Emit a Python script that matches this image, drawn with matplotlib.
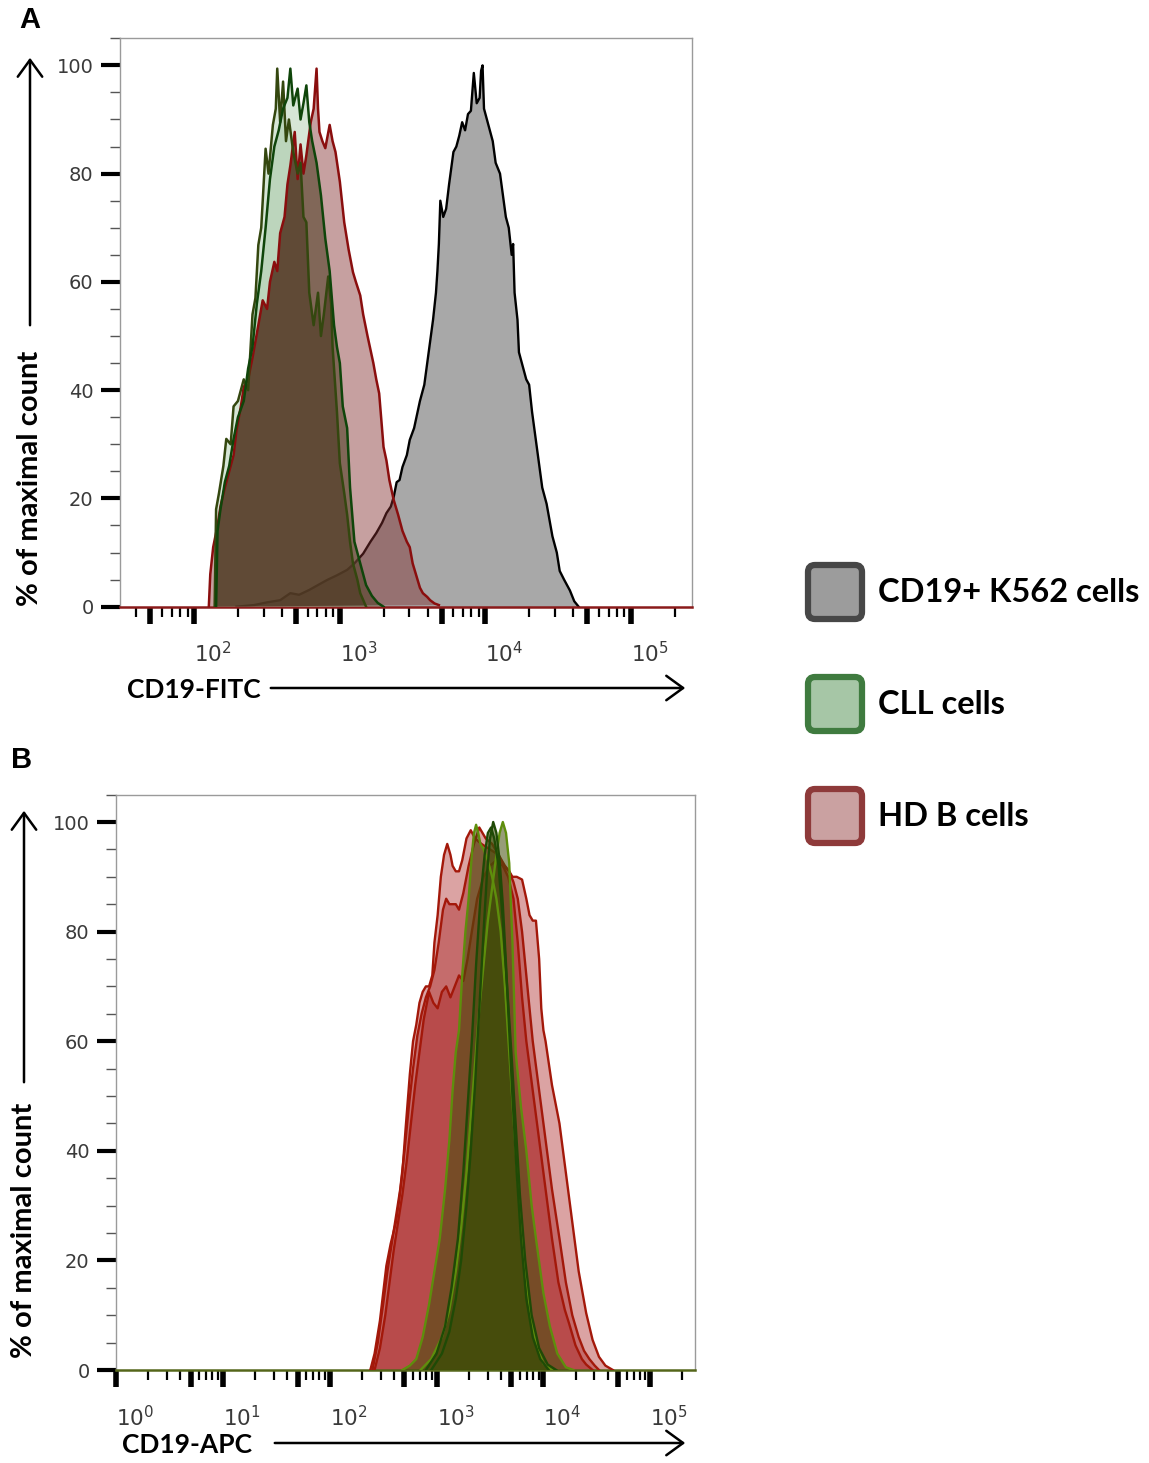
import matplotlib
matplotlib.use('Agg')
import matplotlib.pyplot as plt
import numpy as np
from matplotlib.patches import FancyArrowPatch, FancyBboxPatch
from matplotlib.ticker import FixedLocator, FuncFormatter, MultipleLocator, NullFormatter
from matplotlib.transforms import IdentityTransform

W, H = 1149, 1463

# ---- panel A: CD19-FITC (x given as log10 of intensity, y as % of max) ----
k562_log = [2.29, 2.41, 2.50, 2.59, 2.66, 2.72, 2.79, 2.85, 2.91, 2.98, 3.05, 3.10, 3.16, 3.21,
            3.25, 3.29, 3.32, 3.35, 3.37, 3.39, 3.41, 3.43, 3.46, 3.48, 3.51, 3.55, 3.58, 3.61,
            3.64, 3.66, 3.67, 3.68, 3.69, 3.71, 3.73, 3.75, 3.78, 3.80, 3.82, 3.84, 3.86, 3.88,
            3.90, 3.92, 3.94, 3.96, 3.97, 3.98, 3.99, 4.01, 4.03, 4.05, 4.07, 4.10, 4.12, 4.14,
            4.16, 4.18, 4.19, 4.20, 4.22, 4.23, 4.25, 4.28, 4.30, 4.32, 4.35, 4.37, 4.39, 4.42,
            4.44, 4.46, 4.49, 4.51, 4.54, 4.58, 4.61, 4.64]
k562_pct = [0, 0.3, 0.8, 1.2, 2.5, 2.2, 3.1, 4.0, 4.9, 5.8, 6.8, 8.0, 9.8, 12.0,
            13.6, 15.5, 17.3, 18.5, 20.3, 23.0, 23.4, 25.8, 28.0, 30.8, 33.0, 38.0, 41.0, 47.0,
            53.0, 58.0, 62.0, 67.0, 75.0, 72.0, 73.5, 78.0, 84.0, 85.0, 87.0, 89.5, 88.0, 91.0,
            91.6, 98.6, 93.0, 94.0, 99.0, 100.0, 92.0, 90.0, 88.0, 86.0, 82.0, 80.0, 76.0, 72.0,
            70.0, 65.0, 67.0, 58.0, 53.0, 47.0, 45.0, 42.0, 41.0, 36.0, 30.0, 26.0, 22.0, 19.0,
            16.0, 13.0, 10.0, 6.6, 5.0, 3.0, 1.0, 0.0]

hd_a_log = [2.10, 2.11, 2.13, 2.16, 2.18, 2.21, 2.24, 2.27, 2.29, 2.32, 2.34, 2.37, 2.40, 2.43,
            2.47, 2.50, 2.52, 2.55, 2.57, 2.59, 2.62, 2.64, 2.66, 2.69, 2.71, 2.73, 2.75, 2.77,
            2.80, 2.82, 2.84, 2.85, 2.86, 2.88, 2.90, 2.93, 2.95, 2.97, 3.00, 3.03, 3.06, 3.09,
            3.11, 3.14, 3.16, 3.19, 3.23, 3.25, 3.27, 3.30, 3.32, 3.34, 3.37, 3.40, 3.43, 3.46,
            3.48, 3.50, 3.52, 3.55, 3.57, 3.60, 3.62, 3.65, 3.68]
hd_a_pct = [0, 6, 11, 15, 18.5, 22, 25, 28, 32.6, 37, 40.6, 42, 46, 50.5,
            56.6, 55, 60, 63.7, 62, 69, 72, 78, 81.5, 87.7, 79, 85.4, 80, 83.4,
            89.5, 92, 99.4, 92, 87.7, 86, 84.7, 89, 86, 84, 78.5, 71, 66, 61.8,
            60, 57.5, 54, 50, 45, 42, 39.4, 29.5, 27, 23.4, 19.7, 17, 14, 12,
            11, 8, 6.2, 3.5, 2.5, 1.8, 1.2, 0.6, 0.3]

cll_a1_log = [2.14, 2.15, 2.17, 2.20, 2.22, 2.25, 2.27, 2.30, 2.34, 2.37, 2.40, 2.42, 2.44, 2.46,
              2.49, 2.51, 2.54, 2.56, 2.57, 2.59, 2.61, 2.63, 2.65, 2.68, 2.71, 2.73, 2.75, 2.77,
              2.79, 2.82, 2.85, 2.87, 2.89, 2.92, 2.94, 2.95, 2.98, 3.00, 3.03, 3.05, 3.07, 3.09,
              3.12, 3.14, 3.18]
cll_a1_pct = [0, 18, 21, 26, 31, 30, 37, 38, 42, 40, 54, 57, 66.8, 70,
              84.6, 80, 89, 92, 99.4, 89.5, 97, 86, 90, 84, 80, 82, 72, 71,
              58, 52, 58, 50, 54, 61, 56, 48, 36, 26.5, 21, 17, 12, 8,
              5, 2.5, 0]

cll_a2_log = [2.15, 2.16, 2.18, 2.21, 2.24, 2.27, 2.30, 2.34, 2.37, 2.40, 2.43, 2.46, 2.49, 2.52,
              2.55, 2.58, 2.61, 2.64, 2.66, 2.68, 2.71, 2.73, 2.75, 2.77, 2.79, 2.81, 2.84, 2.87,
              2.90, 2.93, 2.96, 2.98, 3.00, 3.02, 3.05, 3.07, 3.10, 3.14, 3.18, 3.22, 3.26, 3.30]
cll_a2_pct = [0, 14, 18, 23, 26, 31, 35, 38, 44, 48, 56, 62, 70, 79,
              85, 88, 92, 94, 99.4, 92.6, 95.7, 90, 93, 96.3, 89.5, 86, 82, 76,
              68, 62, 52, 48, 45, 37, 33, 22, 12, 8, 4, 2, 0.7, 0]

# ---- panel B: CD19-APC ----
hd_b1_log = [2.38, 2.42, 2.47, 2.50, 2.53, 2.57, 2.62, 2.65, 2.68, 2.71, 2.75, 2.78, 2.81, 2.84,
             2.87, 2.90, 2.93, 2.96, 2.98, 3.01, 3.04, 3.07, 3.10, 3.13, 3.15, 3.18, 3.21, 3.24,
             3.28, 3.32, 3.36, 3.42, 3.50, 3.58, 3.64, 3.68, 3.71, 3.75, 3.80, 3.84, 3.87, 3.90,
             3.93, 3.96, 3.98, 4.00, 4.02, 4.08, 4.15, 4.21, 4.27, 4.33, 4.40, 4.46, 4.52, 4.58, 4.65]
hd_b1_pct = [0, 3, 9, 14, 19, 23, 27, 31, 36, 44, 54, 60, 63, 67,
             69, 70, 70, 72, 78, 83, 90, 94, 96, 94, 92, 91, 91, 93,
             97, 98.5, 97, 96, 95, 94, 92, 91, 90, 90, 89.5, 86, 83, 82,
             82, 75, 66, 62, 60, 52, 45, 36, 27, 18, 10.4, 5.5, 2.4, 0.8, 0]

hd_b2_log = [2.40, 2.45, 2.50, 2.54, 2.58, 2.62, 2.66, 2.70, 2.74, 2.78, 2.82, 2.86, 2.90, 2.94,
             2.98, 3.02, 3.06, 3.09, 3.12, 3.15, 3.18, 3.21, 3.25, 3.30, 3.35, 3.40, 3.46, 3.52,
             3.58, 3.63, 3.68, 3.72, 3.76, 3.80, 3.84, 3.87, 3.90, 3.94, 3.98, 4.02, 4.08, 4.15,
             4.21, 4.27, 4.33, 4.38, 4.43, 4.48, 4.52]
hd_b2_pct = [0, 5, 12, 18, 23, 28, 33, 40, 48, 55, 61, 65, 68, 70,
             73, 78, 84, 86, 85, 85, 85, 84, 87, 92, 96, 99, 97, 96,
             94, 92, 91, 89, 86, 80, 72, 66, 60, 54, 48, 42, 33, 24,
             16, 10, 6, 3.5, 2, 0.8, 0]

hd_b3_log = [2.42, 2.47, 2.52, 2.56, 2.60, 2.64, 2.68, 2.72, 2.76, 2.80, 2.84, 2.88, 2.93, 2.97,
             3.01, 3.05, 3.09, 3.13, 3.17, 3.21, 3.25, 3.29, 3.33, 3.38, 3.44, 3.50, 3.56, 3.62,
             3.67, 3.72, 3.76, 3.80, 3.84, 3.88, 3.92, 3.96, 4.00, 4.04, 4.08, 4.14, 4.20, 4.24,
             4.30, 4.36, 4.40, 4.46]
hd_b3_pct = [0, 4, 10, 16, 22, 27, 32, 38, 45, 52, 58, 64, 69, 67,
             66, 69, 70, 68, 70, 72, 71, 75, 80, 86, 90, 92, 93, 92,
             90, 86, 78, 68, 60, 54, 48, 42, 36, 30, 24, 16, 11, 8.5,
             4.5, 2, 1, 0]

cll_b1_log = [2.68, 2.75, 2.81, 2.87, 2.93, 2.98, 3.03, 3.08, 3.12, 3.15, 3.18, 3.21, 3.24, 3.27,
              3.30, 3.33, 3.35, 3.37, 3.39, 3.41, 3.44, 3.48, 3.52, 3.56, 3.60, 3.64, 3.68, 3.72,
              3.77, 3.82, 3.88, 3.94, 4.00, 4.08]
cll_b1_pct = [0, 0.8, 2, 6, 12, 18, 24, 33, 42, 51, 58, 62, 72, 80,
              86, 94, 98, 99.5, 98, 96, 95, 93, 90, 86, 80, 70, 58, 46,
              32, 20, 10, 4, 1.2, 0]

cll_b2_log = [2.85, 2.95, 3.05, 3.12, 3.18, 3.23, 3.28, 3.32, 3.36, 3.40, 3.44, 3.48, 3.52, 3.56,
              3.59, 3.62, 3.65, 3.68, 3.71, 3.74, 3.79, 3.84, 3.89, 3.93, 4.00, 4.06, 4.13, 4.21, 4.28]
cll_b2_pct = [0, 2, 6, 11, 18, 26, 36, 46, 56, 66, 74, 82, 88, 94,
              98, 100, 98, 92.5, 78, 58, 48, 40, 30, 24, 14, 8, 3, 0.5, 0]

cll_b3_log = [2.95, 3.05, 3.12, 3.18, 3.23, 3.28, 3.32, 3.36, 3.40, 3.44, 3.47, 3.50, 3.53, 3.56,
              3.59, 3.62, 3.65, 3.68, 3.71, 3.75, 3.79, 3.84, 3.90, 3.97, 4.05]
cll_b3_pct = [0, 3, 7, 13, 20, 30, 40, 52, 66, 80, 90, 97, 100, 98,
              93, 85, 74, 62, 50, 36, 24, 13, 6, 2, 0]

cll_b4_log = [2.90, 3.00, 3.08, 3.14, 3.20, 3.25, 3.29, 3.33, 3.37, 3.41, 3.45, 3.48, 3.51, 3.54,
              3.58, 3.62, 3.66, 3.70, 3.74, 3.78, 3.83, 3.89, 3.96, 4.04, 4.12]
cll_b4_pct = [0, 3, 8, 15, 24, 36, 48, 60, 74, 86, 94, 98, 99, 97,
              92, 82, 70, 58, 45, 32, 20, 10, 4, 1, 0]

legend_labels = ['CD19+ K562 cells', 'CLL cells', 'HD B cells']
legend_faces = ['#9c9c9c', '#a6c6a6', '#caa1a1']
legend_edges = ['#474747', '#3f7b3f', '#8e3a3a']

plt.rcParams['mathtext.default'] = 'regular'
fig = plt.figure(figsize=(W / 100, H / 100), dpi=100)


def fpos(x, y):
    return x / W, 1 - y / H


def add_axes_px(left, top, right, bottom):
    return fig.add_axes([left / W, 1 - bottom / H, (right - left) / W, (bottom - top) / H])


def decade_label(v, pos):
    k = np.log10(v)
    if abs(k - round(k)) < 1e-6:
        return '$10^{%d}$' % round(k)
    return ''


def style_axes(ax, xmin, base_color):
    ax.set_xscale('log')
    ax.set_xlim(xmin, 262144)
    ax.set_ylim(0, 105)
    for s in ['left', 'top', 'right']:
        ax.spines[s].set_color('#9a9a9a')
        ax.spines[s].set_linewidth(1.0)
    ax.spines['bottom'].set_color(base_color)
    ax.spines['bottom'].set_linewidth(1.8)
    major = sorted([10.0 ** k for k in range(0, 6)] + [5 * 10.0 ** k for k in range(0, 6)])
    minor = [m * 10.0 ** k for k in range(0, 6) for m in (2, 3, 4, 6, 7, 8, 9)]
    ax.xaxis.set_major_locator(FixedLocator(major))
    ax.xaxis.set_minor_locator(FixedLocator(minor))
    ax.xaxis.set_major_formatter(FuncFormatter(decade_label))
    ax.xaxis.set_minor_formatter(NullFormatter())
    ax.tick_params(axis='x', which='major', length=12, width=4, color='black',
                   labelsize=15.5, labelcolor='#3a3a3a', pad=13)
    ax.tick_params(axis='x', which='minor', length=7, width=1.6, color='black')
    ax.yaxis.set_major_locator(FixedLocator([0, 20, 40, 60, 80, 100]))
    ax.yaxis.set_minor_locator(MultipleLocator(5))
    ax.tick_params(axis='y', which='major', length=14, width=3, color='black',
                   labelsize=14, labelcolor='#3a3a3a', pad=5)
    ax.tick_params(axis='y', which='minor', length=7, width=1.0, color='#555555')
    for lbl in ax.get_xticklabels():
        lbl.set_horizontalalignment('left')


# ---- panel A ----
axA = add_axes_px(120, 38.3, 692, 606.7)
style_axes(axA, 10 ** 1.49, '#8a1a1a')

kx = 10 ** np.array(k562_log)
axA.fill_between(kx, k562_pct, color='#a8a8a8', lw=0, zorder=1)
axA.plot(kx, k562_pct, color='black', lw=1.7, zorder=2)

hx = 10 ** np.array(hd_a_log)
cll_a = [(10 ** np.array(cll_a1_log), cll_a1_pct, '#34470f'),
         (10 ** np.array(cll_a2_log), cll_a2_pct, '#0f450a')]
for cx, cy, _ in cll_a:
    axA.fill(cx, cy, color=(0.55, 0.72, 0.55), alpha=0.35, lw=0, zorder=3)
hd_poly = axA.fill(hx, hd_a_pct, color=(0.51, 0.18, 0.18), alpha=0.45, lw=0, zorder=4)[0]
for cx, cy, _ in cll_a:
    ov = axA.fill(cx, cy, color=(0.25, 0.17, 0.08), alpha=0.42, lw=0, zorder=5)[0]
    ov.set_clip_path(hd_poly)
axA.plot(hx, hd_a_pct, color='#8a0e0e', lw=1.8, zorder=6)
for cx, cy, ec in cll_a:
    axA.plot(cx, cy, color=ec, lw=1.8, zorder=7)

# ---- panel B ----
axB = add_axes_px(116, 794.6, 695, 1370)
style_axes(axB, 1.0, '#55661a')

for lx, ly in [(hd_b1_log, hd_b1_pct), (hd_b2_log, hd_b2_pct), (hd_b3_log, hd_b3_pct)]:
    axB.fill(10 ** np.array(lx), ly, color=(0.65, 0.1, 0.1), alpha=0.4, lw=0, zorder=2)
    axB.plot(10 ** np.array(lx), ly, color='#a3180a', lw=1.7, zorder=3)
for lx, ly, ec in [(cll_b1_log, cll_b1_pct, '#5e8e0c'), (cll_b2_log, cll_b2_pct, '#5e8e0c'),
                   (cll_b4_log, cll_b4_pct, '#1f4a06'), (cll_b3_log, cll_b3_pct, '#1f4a06')]:
    axB.fill(10 ** np.array(lx), ly, color=(0.26, 0.3, 0.04), alpha=0.55, lw=0, zorder=4)
    axB.plot(10 ** np.array(lx), ly, color=ec, lw=1.7, zorder=5)

# ---- labels, arrows ----
bold = dict(family='Lato', weight='bold', color='black')
fig.text(*fpos(30, 20), 'A', ha='center', va='center', family='Liberation Sans',
         weight='bold', fontsize=21)
fig.text(*fpos(22, 760), 'B', ha='center', va='center', family='Liberation Sans',
         weight='bold', fontsize=21)

fig.text(*fpos(30, 478), '% of maximal count', rotation=90, ha='center', va='center',
         fontsize=21, **bold)
fig.text(*fpos(24, 1230), '% of maximal count', rotation=90, ha='center', va='center',
         fontsize=21, **bold)
fig.text(*fpos(127, 690), 'CD19-FITC', ha='left', va='center', fontsize=19, **bold)
fig.text(*fpos(122, 1445), 'CD19-APC', ha='left', va='center', fontsize=19, **bold)

arrow_kw = dict(transform=fig.transFigure, arrowstyle='->,head_length=0.55,head_width=0.4',
                mutation_scale=22, lw=1.8, color='black')
for p0, p1 in [((30, 328), (30, 55)), ((24, 1085), (24, 808)),
               ((268, 688), (688, 688)), ((272, 1443), (688, 1443))]:
    fig.add_artist(FancyArrowPatch(fpos(*p0), fpos(*p1), **arrow_kw))

# ---- legend ----
for i, (lab, fc, ec) in enumerate(zip(legend_labels, legend_faces, legend_edges)):
    ytop = 565 + i * 112
    box = FancyBboxPatch((808, H - ytop - 54), 54, 54,
                         boxstyle='round,pad=0,rounding_size=7',
                         transform=IdentityTransform(), facecolor=fc, edgecolor=ec, lw=4.5)
    fig.add_artist(box)
    fig.text(*fpos(878, ytop + 28), lab, ha='left', va='center', fontsize=23.5, **bold)

fig.savefig('out.png', dpi=100)
